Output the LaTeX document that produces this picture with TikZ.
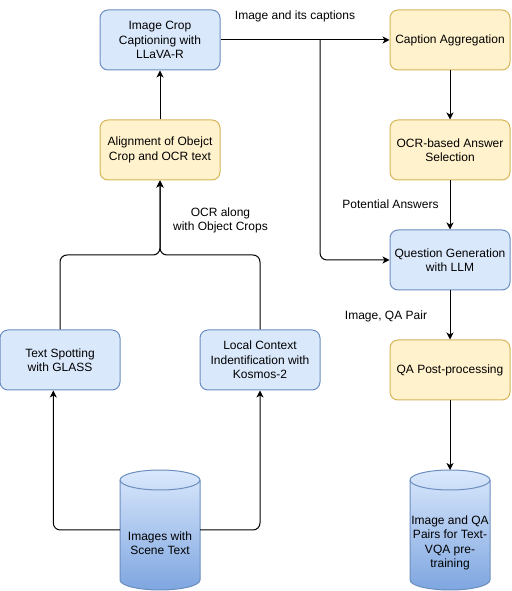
\documentclass[tikz,border=0pt]{standalone}
\usepackage{fontspec}
\setmainfont{Liberation Sans}
\usetikzlibrary{arrows.meta,calc}
\definecolor{bfill}{HTML}{DAE8FC}
\definecolor{bdraw}{HTML}{6C8EBF}
\definecolor{yfill}{HTML}{FFF2CC}
\definecolor{ydraw}{HTML}{D6B656}
\definecolor{cylbot}{HTML}{7EA6E0}
\begin{document}
\begin{tikzpicture}[x=1pt,y=1pt,
  txt/.style={font=\fontsize{12}{14.4}\selectfont, align=center, inner sep=0pt},
  box/.style={txt, draw, rounded corners=8pt, minimum width=120pt, minimum height=60pt, line width=1pt},
  bluebox/.style={box, fill=bfill, draw=bdraw},
  yellowbox/.style={box, fill=yfill, draw=ydraw},
  cylnode/.style={minimum width=80pt, minimum height=120pt, inner sep=0pt, outer sep=0pt},
  conn/.style={draw=black, line width=1pt, -{Stealth[length=7pt,width=7pt,inset=2pt]}},
  plain/.style={draw=black, line width=1pt}]
\useasboundingbox (0,0) rectangle (511,591);

% boxes
\node[bluebox] (cap) at (160,551) {Image Crop\\Captioning with\\LLaVA-R};
\node[yellowbox] (align) at (160,441) {Alignment of Obejct\\Crop and OCR text};
\node[yellowbox] (agg) at (450,551) {Caption Aggregation};
\node[yellowbox] (ocrsel) at (450,441) {OCR-based Answer\\Selection};
\node[bluebox] (qgen) at (450,331) {Question Generation\\with LLM};
\node[yellowbox] (qapost) at (450,221) {QA Post-processing};
\node[bluebox] (spot) at (60,231) {Text Spotting\\with GLASS};
\node[bluebox] (local) at (260,231) {Local Context\\Indentification with\\Kosmos-2};

% cylinders
\node[cylnode] (cyl1) at (160,61) {};
\node[cylnode] (cyl2) at (450,61) {};
\foreach \c in {cyl1,cyl2}{
  \draw[draw=bdraw, line width=1pt, top color=bfill, bottom color=cylbot]
    ($(\c.north west)+(0,-10)$) -- ($(\c.south west)+(0,10)$)
    arc[start angle=180,end angle=360,x radius=40,y radius=10]
    -- ($(\c.north east)+(0,-10)$)
    arc[start angle=0,end angle=180,x radius=40,y radius=10] -- cycle;
  \draw[draw=bdraw, line width=1pt] ($(\c.north west)+(0,-10)$)
    arc[start angle=180,end angle=360,x radius=40,y radius=10];
}
\node[txt] (cyl1t) at (160,48) {Images with\\Scene Text};
\node[txt] (cyl2t) at (450,48) {Image and QA\\Pairs for Text-\\VQA pre-\\training};

% connectors
\coordinate (jn) at (320,551);
\coordinate (mrg) at (160,336);
\draw[conn] (cap.east) -- (agg.west);
\draw[conn, rounded corners=7pt] (jn) |- (qgen.west);
\draw[conn] (agg.south) -- (ocrsel.north);
\draw[conn] (ocrsel.south) -- (qgen.north);
\draw[conn] (qgen.south) -- (qapost.north);
\draw[conn] (qapost.south) -- (cyl2.north);
\draw[conn] (align.north) -- (cap.south);
\draw[conn, rounded corners=7pt] (spot.north) |- (mrg) -- (align.south);
\draw[conn, rounded corners=7pt] (local.north) |- (mrg) -- (align.south);
\draw[conn, rounded corners=7pt] (cyl1.west) -| ([xshift=-6.7pt]spot.south);
\draw[conn, rounded corners=7pt] (cyl1.east) -| (local.south);

% labels
\node[txt] (l1) at (295,575) {Image and its captions};
\node[txt] (l2) at (390.5,387) {Potential Answers};
\node[txt] (l3) at (386,275) {Image, QA Pair};
\node[txt] (l4) at (220.5,370.5) {OCR along\\with Object Crops};
\end{tikzpicture}
\end{document}
